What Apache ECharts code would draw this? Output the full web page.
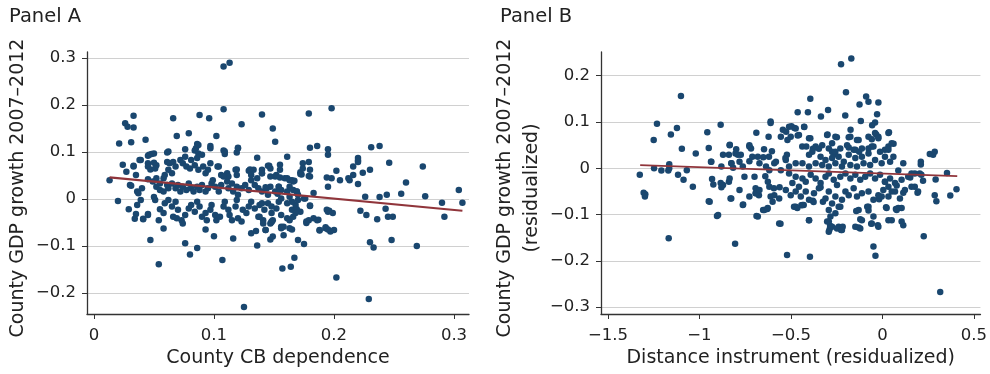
<!DOCTYPE html>
<html>
<head>
<meta charset="utf-8">
<script src="https://cdn.jsdelivr.net/npm/echarts@6.0.0/dist/echarts.min.js"></script>
<style>
  html, body { margin: 0; padding: 0; background: #fff; }
  #chart { width: 990px; height: 374px; }
</style>
</head>
<body>
<div id="chart"></div>
<script>
// Panel A: county CB dependence vs county GDP growth 2007-2012
const panelA = [
  [0.108,0.282],[0.113,0.290],[0.108,0.191],[0.198,0.193],[0.179,0.182],[0.140,0.180],[0.088,0.179],[0.096,0.172],
  [0.066,0.172],[0.033,0.177],[0.026,0.161],[0.028,0.154],[0.033,0.152],[0.123,0.159],[0.149,0.150],[0.079,0.140],
  [0.069,0.134],[0.102,0.134],[0.043,0.126],[0.031,0.121],[0.021,0.118],[0.151,0.122],[0.086,0.117],[0.097,0.113],
  [0.120,0.109],[0.186,0.113],[0.180,0.109],[0.238,0.113],[0.231,0.110],[0.195,0.106],[0.108,0.103],[0.062,0.101],
  [0.076,0.106],[0.085,0.108],[0.119,0.099],[0.109,0.096],[0.048,0.096],[0.050,0.097],[0.195,0.094],[0.161,0.090],
  [0.136,0.088],[0.046,0.094],[0.220,0.087],[0.220,0.082],[0.246,0.077],[0.174,0.076],[0.179,0.079],[0.024,0.073],
  [0.039,0.083],[0.274,0.069],[0.216,0.069],[0.146,0.071],[0.155,0.073],[0.104,0.069],[0.033,0.071],[0.027,0.058],
  [0.202,0.060],[0.180,0.062],[0.172,0.057],[0.224,0.056],[0.230,0.062],[0.155,0.062],[0.133,0.062],[0.129,0.060],
  [0.119,0.063],[0.198,0.044],[0.205,0.040],[0.213,0.040],[0.220,0.032],[0.180,0.048],[0.151,0.048],[0.159,0.044],
  [0.166,0.037],[0.013,0.040],[0.260,0.035],[0.195,0.026],[0.304,0.019],[0.256,0.011],[0.276,0.006],[0.244,0.009],
  [0.238,0.004],[0.226,0.005],[0.183,0.013],[0.020,-0.004],[0.290,-0.008],[0.307,-0.008],[0.243,-0.021],[0.222,-0.025],
  [0.227,-0.034],[0.245,-0.038],[0.249,-0.038],[0.236,-0.043],[0.292,-0.038],[0.196,-0.025],[0.199,-0.030],[0.180,-0.015],
  [0.029,-0.022],[0.035,-0.032],[0.041,-0.042],[0.034,-0.042],[0.045,-0.034],[0.054,-0.045],[0.058,-0.063],[0.047,-0.087],
  [0.093,-0.065],[0.100,-0.079],[0.116,-0.084],[0.131,-0.073],[0.135,-0.068],[0.143,-0.066],[0.148,-0.049],[0.156,-0.059],
  [0.158,-0.077],[0.147,-0.086],[0.165,-0.065],[0.170,-0.087],[0.175,-0.096],[0.177,-0.051],[0.188,-0.066],[0.193,-0.062],
  [0.200,-0.066],[0.197,-0.069],[0.183,-0.041],[0.076,-0.094],[0.136,-0.099],[0.086,-0.104],[0.080,-0.118],[0.054,-0.139],
  [0.107,-0.130],[0.167,-0.125],[0.164,-0.144],[0.157,-0.148],[0.230,-0.092],[0.233,-0.103],[0.248,-0.087],[0.269,-0.100],
  [0.202,-0.167],[0.229,-0.213],[0.125,-0.230],
  [0.045,0.092],[0.061,0.099],[0.087,0.115],[0.097,0.108],[0.084,0.103],[0.087,0.097],[0.090,0.094],[0.109,0.101],
  [0.120,0.108],[0.145,0.071],[0.033,0.069],[0.035,0.051],[0.038,0.083],[0.045,0.076],[0.045,0.069],[0.047,0.063],
  [0.050,0.077],[0.052,0.072],[0.051,0.065],[0.061,0.079],[0.063,0.076],[0.066,0.079],[0.068,0.069],[0.062,0.062],
  [0.065,0.055],[0.072,0.083],[0.074,0.076],[0.077,0.069],[0.076,0.090],[0.081,0.083],[0.080,0.065],[0.084,0.072],
  [0.086,0.087],[0.087,0.062],[0.091,0.069],[0.093,0.055],[0.095,0.062],[0.097,0.076],[0.103,0.069],[0.106,0.051],
  [0.111,0.055],[0.112,0.048],[0.118,0.062],[0.119,0.051],[0.130,0.063],[0.131,0.051],[0.136,0.044],[0.140,0.055],
  [0.147,0.065],[0.152,0.051],[0.161,0.044],[0.165,0.040],[0.167,0.039],[0.030,0.030],[0.031,0.028],[0.036,0.016],
  [0.037,0.012],[0.040,0.023],[0.045,0.042],[0.049,0.037],[0.052,0.044],[0.055,0.033],[0.058,0.044],[0.059,0.051],
  [0.052,0.026],[0.055,0.019],[0.058,0.016],[0.061,0.030],[0.062,0.023],[0.065,0.033],[0.068,0.023],[0.070,0.030],
  [0.072,0.016],[0.074,0.026],[0.077,0.019],[0.079,0.033],[0.081,0.023],[0.083,0.016],[0.086,0.026],[0.088,0.019],
  [0.090,0.030],[0.093,0.016],[0.095,0.023],[0.098,0.033],[0.099,0.040],[0.101,0.026],[0.104,0.016],[0.106,0.030],
  [0.108,0.048],[0.111,0.037],[0.112,0.023],[0.115,0.033],[0.116,0.016],[0.119,0.026],[0.120,0.009],[0.123,0.023],
  [0.126,0.030],[0.129,0.019],[0.131,0.040],[0.134,0.030],[0.137,0.023],[0.140,0.016],[0.144,0.023],[0.147,0.026],
  [0.151,0.016],[0.154,0.026],[0.156,0.019],[0.161,0.016],[0.163,0.026],[0.166,0.019],[0.169,0.016],[0.170,0.009],
  [0.036,-0.013],[0.039,-0.002],[0.041,-0.043],[0.045,-0.032],[0.051,-0.002],[0.050,0.004],[0.055,-0.022],[0.058,-0.030],
  [0.059,-0.009],[0.062,-0.002],[0.065,-0.016],[0.068,-0.006],[0.070,-0.023],[0.066,-0.038],[0.069,-0.041],[0.073,-0.045],
  [0.074,-0.052],[0.076,-0.034],[0.079,-0.020],[0.081,-0.013],[0.084,-0.027],[0.086,-0.006],[0.088,-0.016],[0.090,-0.038],
  [0.093,-0.030],[0.094,-0.045],[0.097,-0.023],[0.098,-0.013],[0.101,-0.034],[0.102,-0.045],[0.105,-0.038],[0.108,-0.016],
  [0.109,-0.006],[0.112,-0.023],[0.113,-0.034],[0.115,-0.045],[0.118,-0.016],[0.119,-0.002],[0.120,-0.041],[0.123,-0.048],
  [0.124,-0.023],[0.127,-0.030],[0.129,-0.016],[0.131,-0.006],[0.134,-0.020],[0.137,-0.038],[0.138,-0.013],[0.141,-0.045],
  [0.142,-0.023],[0.145,-0.009],[0.147,-0.052],[0.148,-0.030],[0.152,-0.020],[0.154,-0.006],[0.156,-0.034],[0.158,-0.059],
  [0.161,-0.041],[0.163,-0.045],[0.165,-0.023],[0.168,-0.013],[0.170,-0.002],[0.172,-0.027],[0.176,0.001],
  [0.174,0.065],[0.173,0.052],[0.220,0.079],[0.147,0.048],[0.155,0.046],[0.194,0.046],[0.212,0.044],[0.216,0.051],
  [0.140,0.062],[0.140,0.055],[0.163,0.040],[0.172,0.053],[0.179,0.049],[0.143,0.025],[0.145,0.009],[0.148,-0.016],
  [0.154,0.026],[0.153,0.011],[0.156,0.001],[0.161,-0.009],[0.163,0.005],[0.165,-0.006],[0.169,0.016],[0.169,-0.022],
  [0.175,0.001],[0.180,-0.014],[0.140,-0.009],[0.138,-0.038],[0.141,-0.052],[0.143,-0.066],[0.148,-0.048],[0.149,-0.080],
  [0.149,-0.045],[0.156,-0.062],[0.163,-0.062],[0.166,-0.038],[0.168,-0.030],[0.177,-0.048],[0.179,-0.045],[0.186,-0.045],
  [0.187,-0.044],[0.188,-0.067],[0.194,-0.023],[0.195,-0.027],[0.193,-0.060],[0.195,-0.065]
];
const fitA = [[0.013, 0.046], [0.307, -0.025]];

// Panel B: residualized distance instrument vs residualized GDP growth
const panelB = [
  [-0.170,0.237],[-0.226,0.225],[-1.101,0.156],[-0.199,0.164],[-0.089,0.155],[-0.076,0.144],[-0.022,0.142],[-0.394,0.150],
  [-0.125,0.138],[-0.463,0.121],[-0.407,0.121],[-0.297,0.126],[-0.336,0.112],[-0.203,0.114],[-0.029,0.117],[-0.118,0.102],
  [-0.040,0.099],[-0.056,0.093],[-0.611,0.101],[-0.611,0.098],[-0.497,0.091],[-0.481,0.087],[-0.427,0.089],[-0.544,0.083],
  [-0.526,0.079],[-0.174,0.083],[-1.232,0.096],[-1.123,0.087],[-0.884,0.094],[-0.957,0.078],[-1.156,0.073],[-1.250,0.061],
  [-0.689,0.077],[-0.622,0.068],[-0.463,0.071],[-0.394,0.065],[-0.300,0.073],[-0.249,0.067],[0.036,0.078],[-0.034,0.073],
  [-0.022,0.068],[-0.058,0.063],[-0.139,0.061],[-0.184,0.067],[-0.834,0.051],[-0.949,0.044],[-1.096,0.042],[-0.799,0.041],
  [-0.803,0.032],[-0.727,0.047],[-0.647,0.041],[-0.604,0.037],[-0.438,0.047],[-0.416,0.047],[-0.380,0.042],[-0.347,0.042],
  [-0.275,0.036],[-0.266,0.029],[-0.184,0.045],[-0.148,0.040],[-0.127,0.036],[-0.076,0.043],[-0.058,0.047],[0.014,0.040],
  [0.033,0.047],[0.061,0.053],[0.060,0.025],[-1.020,0.032],[-0.839,0.029],[-0.774,0.029],[-0.711,0.025],[-0.727,0.015],
  [-0.651,0.024],[-0.620,0.025],[-0.522,0.029],[-0.530,0.022],[0.277,0.029],[0.259,0.031],[0.286,0.036],[0.210,0.014],
  [0.210,0.008],[0.114,0.011],[-0.937,0.014],[-0.825,0.011],[-0.816,0.001],[-1.165,0.009],[-1.248,0.000],[-1.208,-0.005],
  [-1.170,-0.005],[-1.165,0.000],[-1.069,-0.004],[-1.326,-0.014],[-1.117,-0.014],[-1.087,-0.025],[-1.036,-0.040],[-0.931,-0.023],
  [-0.924,-0.035],[-0.884,-0.032],[-0.880,-0.041],[-0.835,-0.022],[-0.839,-0.029],[-1.305,-0.053],[-1.298,-0.061],[-1.296,-0.056],
  [-0.949,-0.071],[-0.904,-0.103],[-0.830,-0.065],[-0.761,-0.078],[-0.693,-0.043],[-0.693,-0.054],[-0.675,-0.058],[-0.754,-0.018],
  [-0.699,-0.018],[-0.640,-0.017],[-0.626,-0.029],[-0.688,-0.103],[-0.652,-0.090],[-0.629,-0.088],[-0.611,-0.061],[-0.593,-0.043],
  [-0.562,-0.041],[-0.557,-0.120],[-0.521,-0.187],[-0.805,-0.163],[-1.168,-0.151],[-0.401,-0.112],[-0.396,-0.191],[-0.474,-0.083],
  [-0.443,-0.080],[-0.430,-0.079],[-0.380,-0.070],[-0.376,-0.073],[-0.338,-0.041],[-0.325,-0.072],[-0.293,-0.115],[-0.289,-0.132],
  [-0.286,-0.124],[-0.239,-0.126],[-0.226,-0.133],[-0.217,-0.126],[-0.143,-0.092],[-0.130,-0.128],[-0.121,-0.110],[-0.083,-0.083],
  [-0.076,-0.091],[-0.061,-0.120],[-0.049,-0.169],[-0.038,-0.189],[-0.025,-0.123],[0.020,-0.084],[0.051,-0.112],[0.074,-0.088],
  [0.087,-0.086],[0.105,-0.086],[0.114,-0.123],[0.226,-0.147],[0.286,-0.058],[0.295,-0.071],[0.371,-0.059],[0.405,-0.045],
  [0.353,-0.010],[0.291,-0.024],[0.316,-0.267],[0.177,-0.040],[0.192,-0.053],[0.159,-0.011],[0.152,-0.020],[0.222,-0.027],
  [0.204,-0.011],[0.087,-0.005],[0.114,-0.053],[0.078,-0.037],[0.051,-0.050],[0.033,-0.040],[0.014,-0.029],[-0.004,-0.061],
  [-0.018,-0.067],
  [-0.510,0.090],[-0.474,0.086],[-0.428,0.090],[-0.501,0.068],[-0.519,0.061],[-0.555,0.068],[-0.456,0.072],[-0.401,0.065],
  [-0.302,0.072],[-0.257,0.068],[-0.275,0.054],[-0.175,0.068],[-0.130,0.061],[-0.076,0.068],[-0.040,0.076],[-0.022,0.065],
  [0.033,0.076],[0.051,0.054],[-0.049,0.047],[-0.112,0.043],[-0.157,0.040],[-0.193,0.050],[-0.230,0.043],[-0.257,0.036],
  [-0.293,0.043],[-0.329,0.050],[-0.365,0.047],[-0.383,0.036],[-0.401,0.029],[-0.338,0.025],[-0.311,0.018],[-0.275,0.022],
  [-0.239,0.025],[-0.211,0.014],[-0.184,0.029],[-0.148,0.022],[-0.112,0.025],[-0.076,0.032],[-0.040,0.018],[-0.013,0.036],
  [0.014,0.025],[0.033,0.040],[0.042,0.014],[-0.004,0.011],[-0.067,0.007],[-0.103,0.011],[-0.139,0.004],[-0.175,0.007],
  [-0.221,0.004],[-0.257,0.011],[-0.293,0.004],[-0.329,0.007],[-0.365,0.011],[-0.401,0.004],[-0.437,0.011],[-0.474,0.011],
  [-0.510,0.004],[-0.528,0.018],[-0.555,-0.004],[-0.591,0.011],[-0.582,0.014],[-0.618,-0.004],[-0.636,0.004],[-0.672,0.011],
  [-0.681,0.025],[-0.718,0.043],[-0.727,0.050],[-0.790,0.029],[-0.835,0.050],[-0.871,0.029],[-0.935,0.014],[-0.880,0.004],
  [-0.826,0.011],[-0.763,0.004],[-0.781,0.014],
  [-0.510,-0.011],[-0.474,-0.018],[-0.437,-0.022],[-0.492,-0.032],[-0.456,-0.040],[-0.419,-0.029],[-0.392,-0.014],[-0.365,-0.022],
  [-0.338,-0.032],[-0.311,-0.018],[-0.293,-0.011],[-0.266,-0.025],[-0.248,-0.036],[-0.230,-0.018],[-0.202,-0.011],[-0.175,-0.022],
  [-0.148,-0.014],[-0.121,-0.025],[-0.094,-0.018],[-0.067,-0.011],[-0.040,-0.022],[-0.013,-0.014],[0.014,-0.029],[0.042,-0.022],
  [0.069,-0.032],[0.105,-0.025],[0.141,-0.018],[0.177,-0.011],[0.213,-0.014],
  [-0.528,-0.047],[-0.501,-0.058],[-0.474,-0.050],[-0.446,-0.061],[-0.419,-0.050],[-0.401,-0.068],[-0.374,-0.054],[-0.347,-0.043],
  [-0.311,-0.065],[-0.293,-0.050],[-0.275,-0.076],[-0.257,-0.061],[-0.239,-0.083],[-0.221,-0.068],[-0.202,-0.050],[-0.184,-0.058],
  [-0.157,-0.043],[-0.139,-0.061],[-0.112,-0.054],[-0.076,-0.050],[-0.049,-0.068],[-0.022,-0.058],[0.005,-0.047],[0.033,-0.061],
  [0.069,-0.050],[0.096,-0.065],[0.123,-0.047],[0.159,-0.040],[0.195,-0.050],
  [-0.691,-0.054],[-0.727,-0.061],[-0.672,-0.047],[-0.618,-0.040],[-0.591,-0.058],[-0.564,-0.065],[-0.781,-0.047],[-0.871,-0.036],
  [-0.944,-0.072],[-0.826,-0.065],[-0.763,-0.079],[-0.600,-0.072],
  [-0.483,-0.083],[-0.465,-0.086],[-0.437,-0.079],[-0.293,-0.090],[-0.284,-0.104],[-0.257,-0.097],[-0.230,-0.083],[-0.130,-0.090],
  [-0.112,-0.112],[-0.076,-0.083],[-0.049,-0.104],[0.023,-0.086],[0.033,-0.112],[0.078,-0.090],[0.105,-0.115],[-0.302,-0.115],
  [-0.275,-0.126],[-0.248,-0.130],[-0.221,-0.133],[-0.293,-0.137],[-0.148,-0.126],[-0.121,-0.130],[-0.058,-0.119],[-0.022,-0.126],
  [-0.401,-0.112],[-0.564,-0.119],[-0.681,-0.104],[-0.645,-0.090],[-0.627,-0.086],[-0.898,-0.101]
];
const fitB = [[-1.324, 0.007], [0.409, -0.017]];

// tick values
const xTicksA = [0, 0.1, 0.2, 0.3];
const yTicksA = [-0.2, -0.1, 0, 0.1, 0.2, 0.3];
const xTicksB = [-1.5, -1, -0.5, 0, 0.5];
const yTicksB = [-0.3, -0.2, -0.1, 0, 0.1, 0.2];

const FONT = "DejaVu Sans";
const TEXT = "#222";
const DOT = "#1a476f";
const FIT = "#90353b";

function fmt(v) {
    if (Math.abs(v) < 1e-9) return "0";
    return String(Math.round(v * 10) / 10).replace("-", "\u2212");
}

function xAxis(idx, min, max, ticks, name) {
    return {
        type: "value", gridIndex: idx, min: min, max: max,
        name: name, nameLocation: "middle", nameGap: 35,
        nameTextStyle: { fontFamily: FONT, fontSize: 19, color: TEXT },
        axisLine: { onZero: false, lineStyle: { color: "#333", width: 1.3 } },
        axisTick: { customValues: ticks, length: 5, lineStyle: { color: "#333" } },
        axisLabel: { customValues: ticks, formatter: fmt, margin: 13, fontFamily: FONT, fontSize: 16.5, color: TEXT },
        splitLine: { show: false }
    };
}

function yAxis(idx, min, max, ticks, name, gap) {
    return {
        type: "value", gridIndex: idx, min: min, max: max,
        name: name, nameLocation: "middle", nameGap: gap,
        // right padding nudges the rotated title a little downwards
        nameTextStyle: { fontFamily: FONT, fontSize: 19, color: TEXT, lineHeight: 27, padding: [0, 10, 0, 0] },
        axisLine: { onZero: false, lineStyle: { color: "#333", width: 1.3 } },
        axisTick: { customValues: ticks, length: 5, lineStyle: { color: "#333" } },
        axisLabel: { customValues: ticks, formatter: fmt, margin: 11, fontFamily: FONT, fontSize: 16.5, color: TEXT },
        splitLine: { show: true, lineStyle: { color: "#d0d0d0", width: 1 } }
    };
}

const chart = echarts.init(document.getElementById("chart"), null, { renderer: "canvas" });

const option = {
    animation: false,
    backgroundColor: "#fff",
    graphic: [
        { type: "text", left: 9, top: 7, style: { text: "Panel A", fontFamily: FONT, fontSize: 19.5, fill: TEXT } },
        { type: "text", left: 500, top: 7, style: { text: "Panel B", fontFamily: FONT, fontSize: 19.5, fill: TEXT } }
    ],
    grid: [
        { left: 87, right: 521, top: 52, bottom: 60 },
        { left: 601, right: 7, top: 52, bottom: 60 }
    ],
    xAxis: [
        xAxis(0, -0.0058, 0.3125, xTicksA, "County CB dependence"),
        xAxis(1, -1.538, 0.536, xTicksB, "Distance instrument (residualized)")
    ],
    yAxis: [
        yAxis(0, -0.2447, 0.3128, yTicksA, "County GDP growth 2007\u20132012", 55),
        yAxis(1, -0.3147, 0.2512, yTicksB, "County GDP growth 2007\u20132012\n(residualized)", 48)
    ],
    series: [
        { type: "scatter", xAxisIndex: 0, yAxisIndex: 0, data: panelA, symbolSize: 6.5, itemStyle: { color: DOT, opacity: 1 } },
        { type: "line", xAxisIndex: 0, yAxisIndex: 0, data: fitA, symbol: "none", z: 5, lineStyle: { color: FIT, width: 2.2 } },
        { type: "scatter", xAxisIndex: 1, yAxisIndex: 1, data: panelB, symbolSize: 6.5, itemStyle: { color: DOT, opacity: 1 } },
        { type: "line", xAxisIndex: 1, yAxisIndex: 1, data: fitB, symbol: "none", z: 5, lineStyle: { color: FIT, width: 1.8 } }
    ]
};

chart.setOption(option);
</script>
</body>
</html>
